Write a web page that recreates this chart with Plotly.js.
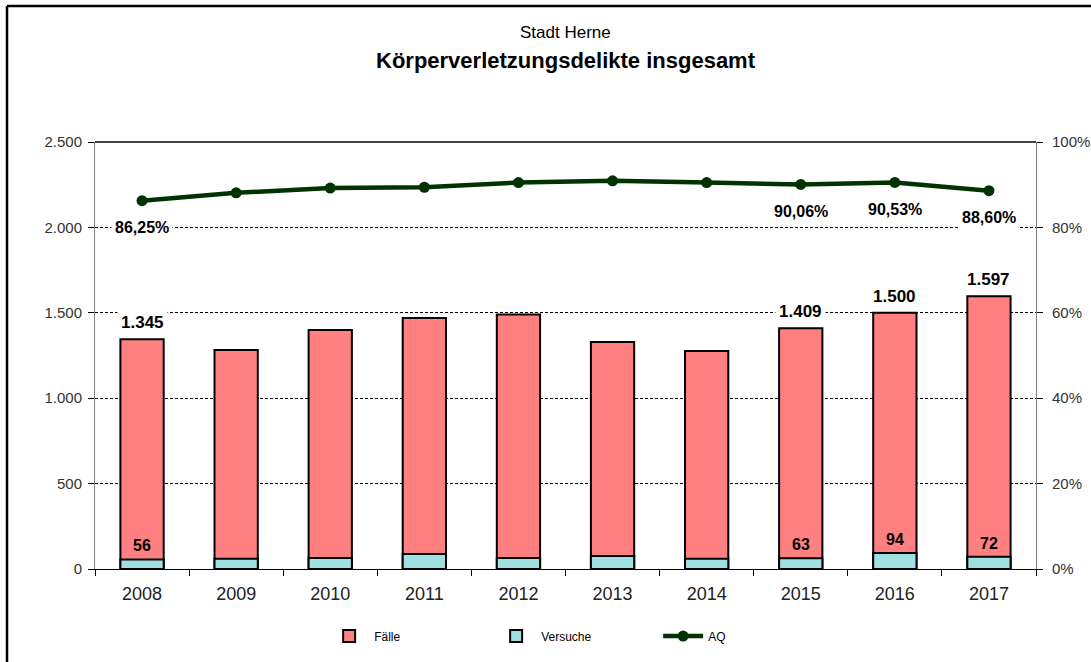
<!DOCTYPE html>
<html>
<head>
<meta charset="utf-8">
<script src="https://cdn.plot.ly/plotly-3.0.1.min.js"></script>
<style>
html,body{margin:0;padding:0;background:#fff;}
#chart{width:1091px;height:662px;}
</style>
</head>
<body>
<div id="chart"></div>
<script>
// ---- data ----
var years = ['2008','2009','2010','2011','2012','2013','2014','2015','2016','2017'];
var faelle = [1345,1282,1399,1470,1490,1329,1276,1409,1500,1597];
var versuche = [56,60,64,88,64,76,60,63,94,72];
var aq = [86.25,88.10,89.20,89.40,90.50,90.90,90.50,90.06,90.53,88.60];
var labeledYears = ['2008','2015','2016','2017'];

function deNum(v){
  var s = String(Math.round(v));
  return s.replace(/\B(?=(\d{3})+(?!\d))/g,'.');
}
function dePct(v){
  return v.toFixed(2).replace('.',',') + '%';
}

var FONT = 'Liberation Sans, Arial, sans-serif';

var traces = [
  {
    type:'bar', name:'Fälle', x:years, y:faelle,
    marker:{color:'#FF8080', line:{color:'#000000', width:2}},
    hoverinfo:'skip'
  },
  {
    type:'bar', name:'Versuche', x:years, y:versuche,
    marker:{color:'#A0E0E0', line:{color:'#000000', width:2}},
    hoverinfo:'skip'
  },
  {
    type:'scatter', mode:'lines+markers', name:'AQ', x:years,
    y:aq.map(function(v){return v/100;}),
    yaxis:'y2',
    line:{color:'#003300', width:4.5},
    marker:{color:'#003300', size:11},
    hoverinfo:'skip'
  }
];

var annotations = [];
years.forEach(function(yr,i){
  if (labeledYears.indexOf(yr) < 0) return;
  annotations.push({
    x:i, y:faelle[i], xref:'x', yref:'y', text:'<b>'+deNum(faelle[i])+'</b>',
    showarrow:false, yanchor:'bottom', yshift:3, bgcolor:'#ffffff', borderpad:3,
    font:{family:FONT, size:17, color:'#000'}
  });
  annotations.push({
    x:i, y:versuche[i], xref:'x', yref:'y', text:'<b>'+deNum(versuche[i])+'</b>',
    showarrow:false, yanchor:'bottom', yshift:3,
    font:{family:FONT, size:16, color:'#000'}
  });
  annotations.push({
    x:i, y:aq[i]/100, xref:'x', yref:'y2', text:'<b>'+dePct(aq[i])+'</b>',
    showarrow:false, yanchor:'middle', yshift:-27, bgcolor:'#ffffff', borderpad:3,
    font:{family:FONT, size:16, color:'#000'}
  });
});
annotations.push({
  xref:'paper', yref:'paper', x:0.5, y:1.2553, text:'Stadt Herne', showarrow:false,
  yanchor:'middle', font:{family:FONT, size:17, color:'#000'}
});
annotations.push({
  xref:'paper', yref:'paper', x:0.5, y:1.1897, text:'<b>Körperverletzungsdelikte insgesamt</b>', showarrow:false,
  yanchor:'middle', font:{family:FONT, size:22, color:'#000'}
});

var layout = {
  width:1091, height:662,
  margin:{l:95, r:55, t:142, b:93},
  paper_bgcolor:'#ffffff', plot_bgcolor:'#ffffff',
  separators:',.',
  barmode:'overlay',
  bargap:0.54,
  showlegend:true,
  legend:{orientation:'h', x:0.2435, xanchor:'left', y:-0.157, yanchor:'middle',
          font:{family:FONT, size:12, color:'#000'}, entrywidth:112, itemwidth:40, traceorder:'normal'},
  font:{family:FONT},
  xaxis:{
    type:'category', range:[-0.5, years.length-0.5], autorange:false,
    showgrid:false, showline:true, linecolor:'#000', linewidth:1,
    ticks:'outside', ticklen:6, tickcolor:'#000', tickson:'boundaries', tickangle:0,
    ticklabelstandoff:8,
    tickfont:{family:FONT, size:18, color:'#222'}, fixedrange:true
  },
  yaxis:{
    range:[0,2500], tick0:0, dtick:500, separatethousands:true,
    showgrid:true, gridcolor:'#000', griddash:'3px,2px', gridwidth:1,
    zeroline:false, showline:true, linecolor:'#808080', linewidth:1,
    ticks:'outside', ticklen:6, tickcolor:'#000', ticklabelstandoff:3,
    tickfont:{family:FONT, size:15, color:'#333'}, fixedrange:true
  },
  yaxis2:{
    range:[0,1], dtick:0.2, tickformat:'.0%', overlaying:'y', side:'right',
    showgrid:false, zeroline:false, showline:true, linecolor:'#808080', linewidth:1,
    ticks:'outside', ticklen:6, tickcolor:'#000', ticklabelstandoff:6,
    tickfont:{family:FONT, size:15, color:'#333'}, fixedrange:true
  },
  annotations:annotations,
  shapes:[
    {type:'line', xref:'paper', yref:'paper', x0:0, x1:1, y0:1, y1:1, line:{color:'#000', width:1.5}},
    {type:'line', xref:'paper', yref:'paper', x0:-0.0935, x1:1.06, y0:1.3185, y1:1.3185, line:{color:'#000', width:2.5}},
    {type:'line', xref:'paper', yref:'paper', x0:-0.0935, x1:-0.0935, y0:1.3185, y1:-0.22, line:{color:'#000', width:2.5}}
  ]
};

Plotly.newPlot('chart', traces, layout, {displayModeBar:false, staticPlot:true});
</script>
</body>
</html>
